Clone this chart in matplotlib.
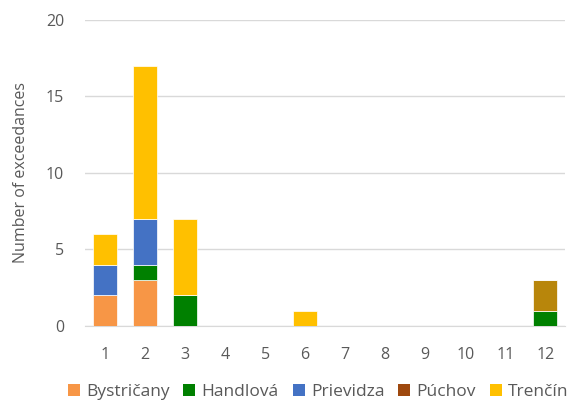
import matplotlib
matplotlib.use("Agg")
import matplotlib.pyplot as plt
from matplotlib.patches import Patch
import numpy as np

plt.rcParams['font.family'] = ['Open Sans', 'DejaVu Sans']

months = [1, 2, 3, 4, 5, 6, 7, 8, 9, 10, 11, 12]
bystricany = [2, 3, 0, 0, 0, 0, 0, 0, 0, 0, 0, 0]
handlova   = [0, 1, 2, 0, 0, 0, 0, 0, 0, 0, 0, 1]
prievidza  = [2, 3, 0, 0, 0, 0, 0, 0, 0, 0, 0, 0]
puchov     = [0, 0, 0, 0, 0, 0, 0, 0, 0, 0, 0, 2]
trencin    = [2, 10, 5, 0, 0, 1, 0, 0, 0, 0, 0, 0]

series = [
    ("Bystričany", bystricany, "#F79646", "#F79646"),
    ("Handlová", handlova, "#008000", "#008000"),
    ("Prievidza", prievidza, "#4472C4", "#4472C4"),
    ("Púchov", puchov, "#B8860B", "#9E480E"),
    ("Trenčín", trencin, "#FFC000", "#FFC000"),
]

fig = plt.figure(figsize=(5.75, 4.05), dpi=100)
ax = fig.add_axes([0.148, 0.195, 0.835, 0.756])

x = np.arange(len(months))
bottom = np.zeros(len(months))
handles = []
for name, vals, col, lcol in series:
    v = np.array(vals, dtype=float)
    ax.bar(x, v, 0.6, bottom=bottom, color=col, edgecolor='white', linewidth=0.5, zorder=3)
    bottom += v
    handles.append(Patch(facecolor=lcol, label=name))

ax.set_ylim(0, 20)
ax.set_xlim(-0.5, len(months) - 0.5)
ax.set_yticks([0, 5, 10, 15, 20])
ax.set_xticks(x)
ax.set_xticklabels([str(m) for m in months])
ax.yaxis.grid(True, color='#D9D9D9', linewidth=1, zorder=0)
for s in ['top', 'right', 'left']:
    ax.spines[s].set_visible(False)
ax.spines['bottom'].set_color('#D9D9D9')
ax.tick_params(axis='both', length=0, labelsize=11.5, labelcolor='#595959')
ax.tick_params(axis='x', pad=15)
ax.tick_params(axis='y', pad=15)
ax.set_ylabel("Number of exceedances", fontsize=11.5, color='#595959', labelpad=12)

fig.legend(handles=handles, loc='center', bbox_to_anchor=(0.553, 0.032), ncol=5,
           frameon=False, fontsize=12.5, labelcolor='#595959', handlelength=0.7,
           handleheight=0.7, handletextpad=0.35, columnspacing=0.8)

fig.savefig("out.png", dpi=100)
